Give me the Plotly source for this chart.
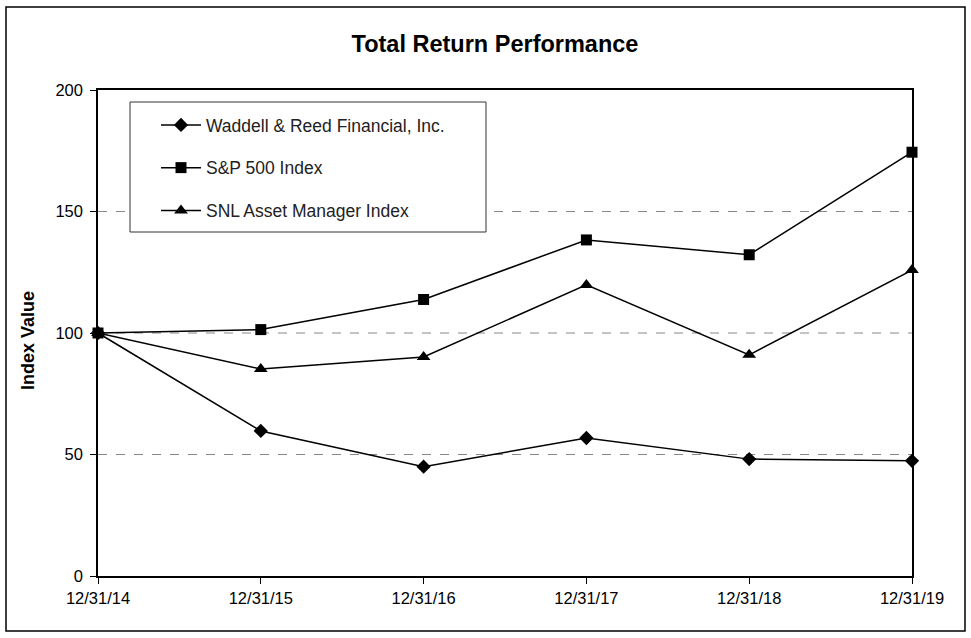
import plotly.graph_objects as go

dates = ["12/31/14", "12/31/15", "12/31/16", "12/31/17", "12/31/18", "12/31/19"]
waddell = [100, 59.7, 45.0, 56.8, 48.1, 47.4]
sp500 = [100, 101.4, 113.8, 138.3, 132.2, 174.4]
snl = [100, 85.2, 90.1, 119.8, 91.0, 125.9]
y_ticks = [0, 50, 100, 150, 200]

names = ["Waddell & Reed Financial, Inc.", "S&P 500 Index", "SNL Asset Manager Index"]
symbols = ["diamond", "square", "triangle-up"]
sizes = [11, 11, 12]
series = [waddell, sp500, snl]

FONT = "Liberation Sans, Arial, sans-serif"
PW, PH, L, T = 814, 486, 98, 90


def px_x(p):
    return (p - L) / PW


def px_y(p):
    return (T + PH - p) / PH


fig = go.Figure()
for i, (nm, sym, sz, vals) in enumerate(zip(names, symbols, sizes, series)):
    fig.add_trace(go.Scatter(
        x=list(range(len(dates))), y=vals, name=nm, mode="lines+markers",
        line=dict(color="black", width=1.5),
        marker=dict(symbol=sym, size=sz, color="black"),
        cliponaxis=False, legendgroup=f"g{i}",
    ))

fig.update_layout(
    width=971, height=638,
    margin=dict(l=L, r=971 - L - PW, t=T, b=638 - T - PH),
    paper_bgcolor="white", plot_bgcolor="white",
    font=dict(family=FONT, size=16, color="black"),
    title=dict(text="<b>Total Return Performance</b>", x=495 / 971, xref="container",
               xanchor="center", y=1 - 44 / 638, yref="container", yanchor="middle",
               font=dict(size=23.5, family=FONT, color="black")),
    showlegend=True,
    legend=dict(x=px_x(156), y=px_y(107), xanchor="left", yanchor="top",
                borderwidth=0, bgcolor="rgba(0,0,0,0)",
                font=dict(size=17.5, family=FONT, color="#222"),
                tracegroupgap=17, itemwidth=40),
    xaxis=dict(range=[0, 5], tickmode="array", tickvals=list(range(len(dates))),
               ticktext=dates, showgrid=False, showline=True, linecolor="black",
               linewidth=1.5, mirror=True, ticks="outside", ticklen=6,
               tickcolor="black", zeroline=False, tickfont=dict(size=16.5)),
    yaxis=dict(range=[0, 200], tickvals=y_ticks, showgrid=False, showline=True,
               linecolor="black", linewidth=1.5, mirror=True, ticks="outside",
               ticklen=6, tickcolor="black", zeroline=False, ticklabelstandoff=4,
               tickfont=dict(size=16.5)),
)

# dashed gridlines at inner ticks
for v in y_ticks[1:-1]:
    fig.add_shape(type="line", xref="paper", yref="y", x0=0, x1=1, y0=v, y1=v,
                  line=dict(color="#888", width=1, dash="dash"), layer="below")

# legend frame (covers gridlines)
fig.add_shape(type="rect", xref="paper", yref="paper",
              x0=px_x(130), x1=px_x(486), y0=px_y(232), y1=px_y(102),
              line=dict(color="#333", width=1), fillcolor="white", layer="below")

# y-axis title
fig.add_annotation(text="<b>Index Value</b>", xref="paper", yref="paper",
                   x=px_x(28), y=px_y(341), xanchor="center", yanchor="middle",
                   textangle=-90, showarrow=False,
                   font=dict(size=18, family=FONT, color="black"))

# outer chart frame
fig.add_shape(type="rect", xref="paper", yref="paper",
              x0=px_x(6), x1=px_x(965), y0=px_y(631), y1=px_y(7),
              line=dict(color="black", width=1.5), layer="below")

fig.write_html("out.html", config={"displayModeBar": False},
               post_script="document.body.style.margin='0';")
